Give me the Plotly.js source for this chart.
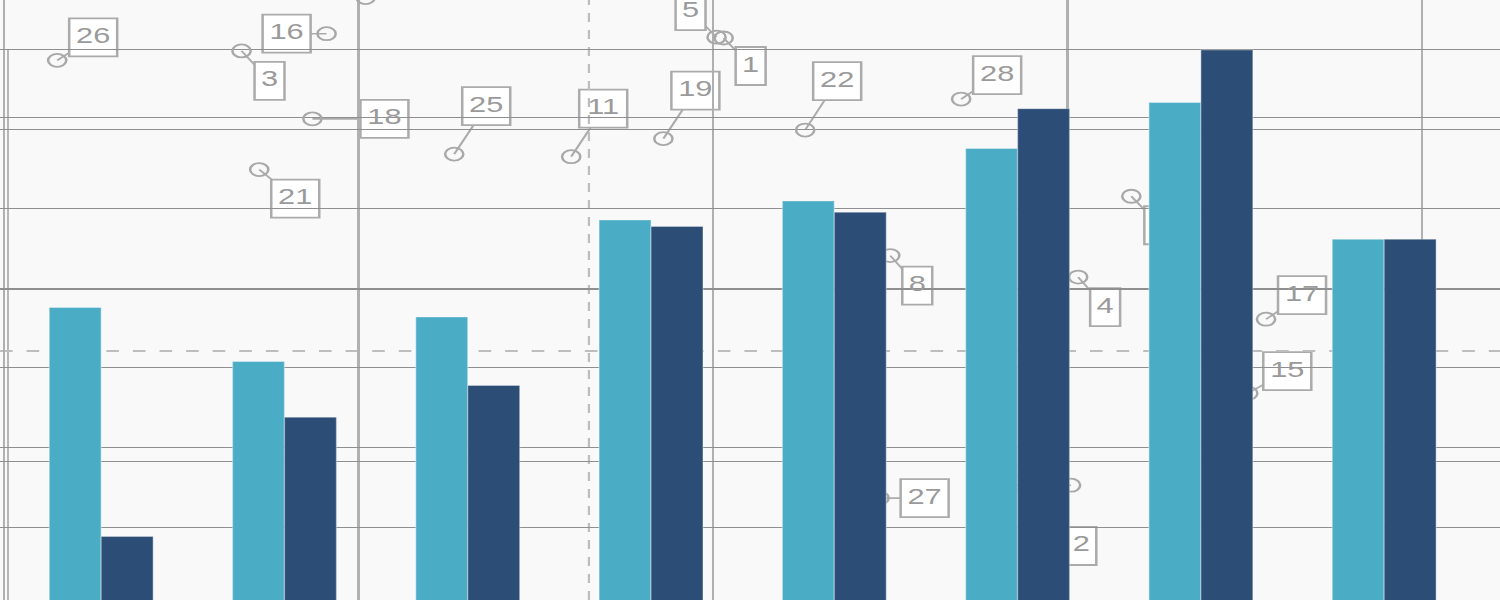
<!DOCTYPE html>
<html>
<head>
<meta charset="utf-8">
<script src="https://cdn.plot.ly/plotly-3.0.1.min.js"></script>
<style>
    html, body { margin: 0; padding: 0; background: #f9f9f9; overflow: hidden; }
    /* the reference is stretched sideways, so draw narrow and scale it out */
    #chart { width: 1072px; height: 600px; transform: scaleX(1.39925); transform-origin: 0 0; }
</style>
</head>
<body>
<div id="chart"></div>
<script>
// bar series
let categories = ['Jan', 'Feb', 'Mar', 'Apr', 'May', 'Jun', 'Jul', 'Aug'];
let seriesA = [18.8, 15.4, 18.2, 24.3, 25.5, 28.8, 31.7, 23.1];
let seriesB = [4.4, 11.9, 13.9, 23.9, 24.8, 31.3, 35.0, 23.1];

// numbered points
let pointIds = ['26', '16', '3', '18', '25', '21', '7', '11', '19', '5', '1', '22', '28', '9', '8', '4', '17', '15', '27', '2', '20'];
let pointX = [1.5, 9.1, 6.7, 8.7, 12.7, 7.2, 10.2, 16.0, 18.6, 20.1, 20.3, 22.6, 27.0, 31.8, 25.0, 30.3, 35.6, 35.1, 24.7, 29.6, 30.1];
let pointY = [46.7, 49.8, 47.8, 39.9, 35.8, 34.0, 54.0, 35.5, 37.6, 49.4, 49.3, 38.6, 42.2, 30.9, 24.0, 21.5, 16.6, 8.0, -4.2, -6.4, -2.7];

// reference lines
let refX = 16.5;
let refY = 12.9;

// where each label box sits, screen px from its point (x right, y down)
let labelDx = [36, -40, 28, 72, 32, 36, 32, 32, 32, -26, 27, 32, 36, 28, 27, 27, 36, 39, 45, 28, -45];
let labelDy = [-23, 0, 30, 0, -48, 29, -60, -48, -48, -26, 28, -49, -24, 29, 30, 30, -24, -22, 0, 29, 0];

let stretch = 1500 / 1072;
let plotW = 1072;
let plotH = 600;
let xRange = [-0.113, 42.2];
let yRange = [-16.05, 53.72];
let pxX = plotW / (xRange[1] - xRange[0]);
let pxY = plotH / (yRange[1] - yRange[0]);

let labelX = pointX.map((x, i) => x + (labelDx[i] / stretch) / pxX);
let labelY = pointY.map((y, i) => y - labelDy[i] / pxY);

let boxColor = '#ababab';
let shapes = [];

// connector lines
for (let i = 0; i < pointIds.length; i++) {
    shapes.push({
        type: 'line', layer: 'below',
        xref: 'x', yref: 'y',
        xsizemode: 'pixel', ysizemode: 'pixel',
        xanchor: pointX[i], yanchor: pointY[i],
        x0: 0, x1: labelDx[i] / stretch,
        y0: 0, y1: -labelDy[i],
        line: { color: boxColor, width: 1.6 }
    });
}

// label boxes
for (let i = 0; i < pointIds.length; i++) {
    let w = pointIds[i].length > 1 ? 34.3 : 21.4;
    let cx = labelDx[i] / stretch;
    let cy = -labelDy[i];
    shapes.push({
        type: 'rect', layer: 'below',
        xref: 'x', yref: 'y',
        xsizemode: 'pixel', ysizemode: 'pixel',
        xanchor: pointX[i], yanchor: pointY[i],
        x0: cx - w / 2, x1: cx + w / 2,
        y0: cy - 19, y1: cy + 19,
        fillcolor: '#ffffff',
        line: { color: boxColor, width: 1.8 }
    });
}

// dashed reference lines
shapes.push({
    type: 'line', layer: 'below', xref: 'x', yref: 'y',
    x0: xRange[0], x1: xRange[1], y0: refY, y1: refY,
    line: { color: '#bdbdbd', width: 2, dash: '9px,10px' }
});
shapes.push({
    type: 'line', layer: 'below', xref: 'x', yref: 'y',
    x0: refX, x1: refX, y0: yRange[0], y1: yRange[1],
    line: { color: '#bdbdbd', width: 1.6, dash: '9px,8px' }
});

// thin axis line at the left edge
shapes.push({
    type: 'line', layer: 'below', xref: 'paper', yref: 'y2',
    x0: 8 / 1500, x1: 8 / 1500, y0: 35, y1: 0,
    line: { color: '#8f8f8f', width: 0.9 }
});

let points = {
    x: pointX,
    y: pointY,
    mode: 'markers',
    type: 'scatter',
    marker: { symbol: 'circle-open', size: 13, color: '#a8a8a8', line: { width: 1.8, color: '#a8a8a8' } },
    hoverinfo: 'skip'
};

let labels = {
    x: labelX,
    y: labelY,
    text: pointIds,
    mode: 'text',
    type: 'scatter',
    textposition: 'middle center',
    textfont: { family: 'Liberation Sans, Arial, sans-serif', size: 22, color: '#9a9a9a' },
    hoverinfo: 'skip'
};

let barsA = {
    x: categories,
    y: seriesA,
    type: 'bar',
    xaxis: 'x2',
    yaxis: 'y2',
    marker: { color: '#4BACC6', line: { color: 'rgba(255,255,255,0.35)', width: 1 } }
};

let barsB = {
    x: categories,
    y: seriesB,
    type: 'bar',
    xaxis: 'x2',
    yaxis: 'y2',
    marker: { color: '#2C4D75', line: { color: 'rgba(255,255,255,0.3)', width: 1 } }
};

let layout = {
    width: plotW,
    height: plotH,
    autosize: false,
    margin: { l: 0, r: 0, t: 0, b: 0, pad: 0 },
    paper_bgcolor: '#f9f9f9',
    plot_bgcolor: 'rgba(0,0,0,0)',
    showlegend: false,
    hovermode: false,
    barmode: 'group',
    bargap: 0.433,
    bargroupgap: 0,
    xaxis: {
        range: xRange, tick0: 0, dtick: 10,
        showgrid: true, gridcolor: '#b0b0b0', gridwidth: 1.5,
        zeroline: false, showticklabels: false, ticks: '', showline: false
    },
    yaxis: {
        range: yRange, tick0: 0, dtick: 20,
        showgrid: true, gridcolor: '#8f8f8f', gridwidth: 1,
        zeroline: false, showticklabels: false, ticks: '', showline: false
    },
    xaxis2: {
        overlaying: 'x', type: 'category', range: [-0.552, 7.632],
        showgrid: false, zeroline: false, showticklabels: false, ticks: '', showline: false
    },
    yaxis2: {
        overlaying: 'y', range: [0.41, 38.14], tick0: 0, dtick: 5,
        showgrid: true, gridcolor: '#8f8f8f', gridwidth: 1,
        zeroline: false, showticklabels: false, ticks: '', showline: false
    },
    shapes: shapes
};

Plotly.newPlot('chart', [points, labels, barsA, barsB], layout, { staticPlot: true });
</script>
</body>
</html>
